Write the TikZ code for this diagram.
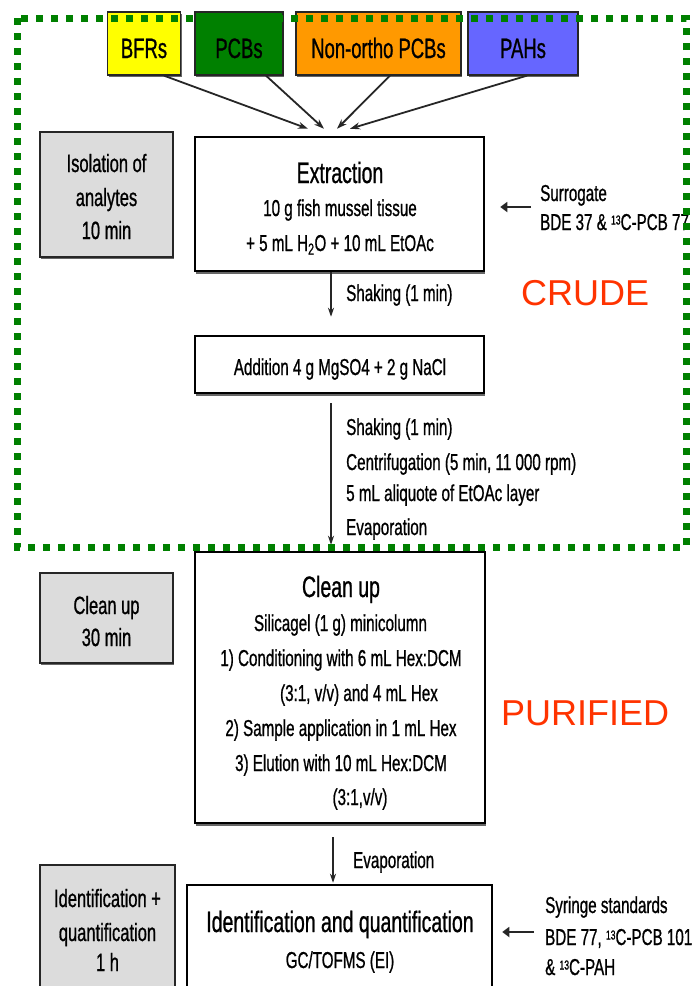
\documentclass[tikz,border=0pt]{standalone}
\usepackage{fontspec}
\setmainfont{Liberation Sans}[FakeStretch=0.66,FakeBold=0.8]
\newfontfamily\plainsans{Liberation Sans}
\usetikzlibrary{arrows.meta,shadows}
\definecolor{frameg}{RGB}{0,128,0}
\definecolor{boxgray}{RGB}{220,220,220}
\definecolor{cyel}{RGB}{255,255,0}
\definecolor{cgreen}{RGB}{0,128,0}
\definecolor{corange}{RGB}{255,153,0}
\definecolor{cblue}{RGB}{102,102,255}
\definecolor{redlbl}{RGB}{255,51,0}
\newcommand\myfs[1]{\fontsize{#1}{#1}\selectfont}
\newcommand\isoC{{\fontsize{13}{13}\selectfont\raisebox{5.5pt}{13}}}
\begin{document}
\begin{tikzpicture}[x=1pt,y=-1pt,
  topbox/.style={draw=black!85, line width=1.3pt, inner sep=0pt,
    drop shadow={shadow xshift=1pt,shadow yshift=-2pt,fill=black,opacity=0.6}},
  graybox/.style={draw=black!85, line width=2.2pt, fill=boxgray, inner sep=0pt,
    drop shadow={shadow xshift=1pt,shadow yshift=-2pt,fill=black,opacity=0.6}},
  mainbox/.style={draw=black, line width=2.5pt, fill=white, inner sep=0pt,
    drop shadow={shadow xshift=1pt,shadow yshift=-2.5pt,fill=black,opacity=0.6}},
  txt/.style={inner sep=0pt, anchor=base, font=\myfs{23}},
  ltxt/.style={inner sep=0pt, anchor=base west, font=\myfs{23}},
  headtxt/.style={inner sep=0pt, anchor=base, font=\myfs{29.5}},
  graytxt/.style={inner sep=0pt, anchor=base, font=\myfs{25}},
  toptxt/.style={inner sep=0pt, anchor=base, font=\myfs{28}},
  bigred/.style={inner sep=0pt, anchor=base west, text=redlbl, font=\plainsans\fontsize{36}{36}\selectfont},
  varrow/.style={draw=black!85, line width=1.4pt, -{Stealth[length=9pt,width=6pt]}},
  tarrow/.style={draw=black!85, line width=1.8pt, -{Stealth[length=10pt,width=7pt]}},
  sarrow/.style={draw=black!85, line width=2.8pt, -{Triangle[length=7pt,width=10pt]}}
]
\useasboundingbox (0,0) rectangle (695,986);
\clip (0,0) rectangle (695,986);

% top category boxes
\node[topbox, fill=cyel, minimum width=73pt, minimum height=63pt] (bfr) at (144,43.5) {};
\node[topbox, fill=cgreen, minimum width=88pt, minimum height=63pt] (pcb) at (239,43.5) {};
\node[topbox, fill=corange, minimum width=165pt, minimum height=63pt] (non) at (378.5,43.5) {};
\node[topbox, fill=cblue, minimum width=110pt, minimum height=63pt] (pah) at (523,43.5) {};
\node[toptxt] (bfrt) at (144,58) {BFRs};
\node[toptxt] (pcbt) at (239,58) {PCBs};
\node[toptxt] (nont) at (378.5,58) {Non-ortho PCBs};
\node[toptxt] (paht) at (523,58) {PAHs};

% gray step boxes
\node[graybox, minimum width=133pt, minimum height=125pt] (iso) at (106.5,194.5) {};
\node[graytxt] (iso1) at (106.5,172) {Isolation of};
\node[graytxt] (iso2) at (106.5,206) {analytes};
\node[graytxt] (iso3) at (106.5,239) {10 min};

\node[graybox, minimum width=133pt, minimum height=90pt] (cug) at (106.5,618) {};
\node[graytxt] (cug1) at (106.5,614) {Clean up};
\node[graytxt] (cug2) at (106.5,646) {30 min};

\node[graybox, minimum width=135pt, minimum height=135pt] (idg) at (107.5,932.5) {};
\node[graytxt] (idg1) at (107.5,907) {Identification +};
\node[graytxt] (idg2) at (107.5,941) {quantification};
\node[graytxt] (idg3) at (107.5,971) {1 h};

% main boxes
\node[mainbox, minimum width=289pt, minimum height=134pt] (ext) at (339.5,204) {};
\node[headtxt] (ext0) at (340,183) {Extraction};
\node[txt] (ext1) at (340,216) {10 g fish mussel tissue};
\node[txt] (ext2) at (340,251) {+ 5 mL H\textsubscript{2}O + 10 mL EtOAc};

\node[mainbox, minimum width=289pt, minimum height=57pt] (add) at (339.5,364.5) {};
\node[txt] (addt) at (340,375) {Addition 4 g MgSO4 + 2 g NaCl};

\node[mainbox, minimum width=290pt, minimum height=271pt] (cln) at (340,687.5) {};
\node[headtxt] (cln0) at (341,597) {Clean up};
\node[txt] (cln1) at (340.5,631) {Silicagel (1 g) minicolumn};
\node[txt] (cln2) at (341,666) {1) Conditioning with 6 mL Hex:DCM};
\node[txt] (cln3) at (359,701) {(3:1, v/v) and 4 mL Hex};
\node[txt] (cln4) at (341,736) {2) Sample application in 1 mL Hex};
\node[txt] (cln5) at (341,771) {3) Elution with 10 mL Hex:DCM};
\node[txt] (cln6) at (360,805) {(3:1,v/v)};

\node[mainbox, minimum width=305pt, minimum height=115pt] (idb) at (339.5,942.5) {};
\node[headtxt] (idb0) at (340,932) {Identification and quantification};
\node[txt] (idb1) at (340,968) {GC/TOFMS (EI)};

% side texts
\node[ltxt] (sur1) at (540,201) {Surrogate};
\node[ltxt] (sur2) at (540,230) {BDE 37 \& \isoC C-PCB 77};
\node[ltxt] (syr1) at (545,913) {Syringe standards};
\node[ltxt] (syr2) at (545,945) {BDE 77, \isoC C-PCB 101};
\node[ltxt] (syr3) at (545,975) {\& \isoC C-PAH};

% arrow labels
\node[ltxt] (sh1) at (346,301) {Shaking (1 min)};
\node[ltxt] (sh2) at (346,435) {Shaking (1 min)};
\node[ltxt] (cen) at (346,470) {Centrifugation (5 min, 11 000 rpm)};
\node[ltxt] (ali) at (346,501) {5 mL aliquote of EtOAc layer};
\node[ltxt] (ev1) at (346,535) {Evaporation};
\node[ltxt] (ev2) at (353,868) {Evaporation};

% big labels
\node[bigred] (crude) at (521,305) {CRUDE};
\node[bigred] (puri) at (501,725) {PURIFIED};

% top arrows
\draw[tarrow] ([xshift=20pt]bfr.south) -- ([xshift=-31.5pt,yshift=7pt]ext.north);
\draw[tarrow] ([xshift=27pt]pcb.south) -- ([xshift=-15.5pt,yshift=7pt]ext.north);
\draw[tarrow] ([xshift=11.5pt]non.south) -- ([xshift=-2.5pt,yshift=7pt]ext.north);
\draw[tarrow] ([xshift=4pt]pah.south) -- ([xshift=10.5pt,yshift=7pt]ext.north);

% vertical arrows
\draw[varrow, shorten >=18pt] ([xshift=-8.5pt]ext.south) -- ([xshift=-8.5pt]add.north);
\draw[varrow, shorten <=9pt, shorten >=6pt] ([xshift=-8.5pt]add.south) -- ([xshift=-9pt]cln.north);
\draw[varrow, shorten <=13pt, shorten >=1pt] ([xshift=-7pt]cln.south) -- ([xshift=-6.5pt]idb.north);

% side arrows
\coordinate (sarr) at (531,207);
\coordinate (yarr) at (534,932);
\draw[sarrow, shorten >=15pt] (sarr) -- (sarr -| ext.east);
\draw[sarrow, shorten >=9pt] (yarr) -- (yarr -| idb.east);

% crude frame
\draw[frameg, line width=7pt, dash pattern=on 7pt off 8pt] (17,18) rectangle (686,547);
\end{tikzpicture}
\end{document}
